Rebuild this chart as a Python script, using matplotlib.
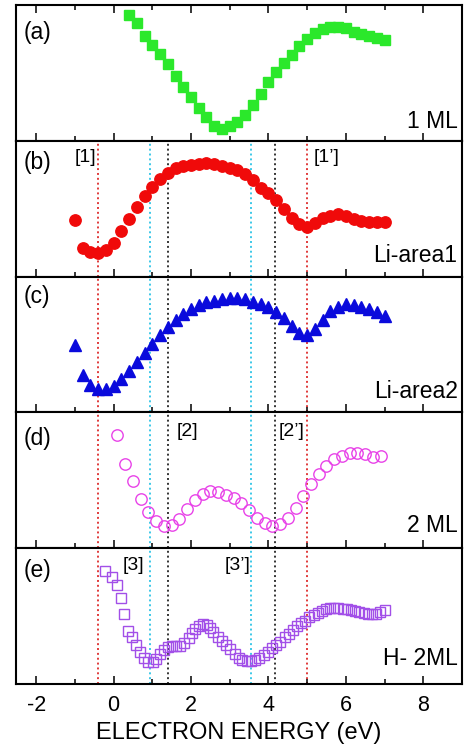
import matplotlib
matplotlib.use('Agg')
import matplotlib.pyplot as plt
from matplotlib.ticker import MultipleLocator

plt.rcParams['font.family'] = ['Liberation Sans', 'DejaVu Sans']
plt.rcParams['axes.unicode_minus'] = False

# ---------------- data (intensity in arbitrary units) ----------------
energy_a = [0.4, 0.6, 0.8, 1.0, 1.2, 1.4, 1.6, 1.8, 2.0, 2.2, 2.4, 2.6, 2.8, 3.0, 3.2, 3.4, 3.6,
            3.8, 4.0, 4.2, 4.4, 4.6, 4.8, 5.0, 5.2, 5.4, 5.6, 5.8, 6.0, 6.2, 6.4, 6.6, 6.8, 7.0]
signal_a = [126, 118, 105, 96, 87, 77, 65, 54, 44, 33, 24, 15, 12, 15, 19, 26, 36,
            47, 59, 69, 78, 86, 95, 102, 108, 112, 114, 114, 113, 109, 107, 105, 103, 101]

energy_bc = [-1.0, -0.8, -0.6, -0.4, -0.2, 0.0, 0.2, 0.4, 0.6, 0.8, 1.0, 1.2, 1.4, 1.6,
             1.8, 2.0, 2.2, 2.4, 2.6, 2.8, 3.0, 3.2, 3.4, 3.6, 3.8, 4.0, 4.2, 4.4, 4.6,
             4.8, 5.0, 5.2, 5.4, 5.6, 5.8, 6.0, 6.2, 6.4, 6.6, 6.8, 7.0]
signal_b = [56.5, 28.2, 24.8, 23.2, 26.5, 33.2, 45.8, 57.8, 69.8, 80.5, 89.8, 97.2, 103.2, 108.2,
            110.5, 111.5, 112.5, 113.2, 112.5, 110.8, 108.8, 106.5, 102.5, 96.5, 88.2, 83.2, 76.5,
            67.2, 58.2, 52.5, 49.8, 53.8, 58.2, 60.5, 62.5, 60.5, 57.5, 55.8, 54.8, 54.8, 54.8]
signal_c = [67.4, 37.4, 27.4, 23.1, 23.1, 26.4, 33.4, 41.7, 50.1, 59.1, 68.1, 77.4, 85.7, 92.4,
            98.4, 103.1, 107.4, 110.1, 111.7, 113.1, 114.7, 114.7, 113.7, 110.7, 108.4, 105.7,
            100.7, 94.1, 86.4, 79.1, 77.4, 83.1, 92.4, 101.4, 105.7, 108.1, 107.4, 105.1, 103.4,
            100.1, 96.4]

energy_d = [0.1, 0.3, 0.5, 0.7, 0.9, 1.1, 1.3, 1.5, 1.7, 1.9, 2.1, 2.3, 2.5, 2.7, 2.9, 3.1, 3.3,
            3.5, 3.7, 3.9, 4.1, 4.3, 4.5, 4.7, 4.9, 5.1, 5.3, 5.5, 5.7, 5.9, 6.1, 6.3, 6.5, 6.7, 6.9]
signal_d = [113.3, 84, 67.3, 49, 36.6, 27.6, 22.3, 23.3, 29.3, 39, 48.3, 54.3, 57.6, 56.6, 53.3,
            50, 45, 38.3, 30.6, 25.6, 22.3, 24.3, 30.6, 40.6, 52.8, 64.3, 74, 82.6, 89, 92.3, 95,
            95.6, 94.3, 91, 92.3]

energy_e = [-0.21, -0.03, 0.09, 0.19, 0.28, 0.36, 0.47, 0.58, 0.69, 0.79, 0.90, 1.01, 1.10, 1.21,
            1.31, 1.40, 1.51, 1.62, 1.72, 1.83, 1.94, 2.03, 2.11, 2.20, 2.30, 2.41, 2.50, 2.58,
            2.70, 2.80, 2.91, 3.02, 3.13, 3.23, 3.33, 3.45, 3.56, 3.66, 3.76, 3.88, 3.98, 4.09,
            4.20, 4.31, 4.42, 4.52, 4.63, 4.74, 4.84, 4.95, 5.06, 5.17, 5.27, 5.39, 5.49, 5.60,
            5.70, 5.81, 5.92, 6.03, 6.13, 6.24, 6.35, 6.46, 6.56, 6.67, 6.77, 6.88, 7.00]
signal_e = [112.8, 106.8, 98.8, 86.6, 70, 53.3, 47.3, 39.3, 32, 26, 22.6, 22, 25.3, 30.3,
            34.3, 37.6, 38.6, 38.6, 38.6, 41, 46, 51, 55.3, 58.6, 60.3, 59.3, 56, 52,
            47.6, 43.3, 39.3, 35, 30, 26, 24, 23.3, 23.3, 24.3, 26.6, 29.3, 32.6, 36,
            39.3, 42.6, 47, 50.3, 54.3, 58.3, 61, 63.6, 67, 69.3, 71.6, 73.6, 75, 76,
            76, 76, 75.3, 75, 74.3, 73.3, 72, 71, 70.3, 70, 70.3, 72, 74.3]

panel_letters = ['(a)', '(b)', '(c)', '(d)', '(e)']
sample_names = ['1 ML', 'Li-area1', 'Li-area2', '2 ML', 'H- 2ML']

# reference energies (dotted guide lines)
guide_red = [-0.4, 5.0]
guide_cyan = [0.95, 3.55]
guide_black = [1.41, 4.17]

# peak markers: (panel index, label, energy)
peak_labels = [(1, '[1]', -0.73), (1, '[1\u2019]', 5.51),
               (3, '[2]', 1.90), (3, '[2\u2019]', 4.59),
               (4, '[3]', 0.52), (4, '[3\u2019]', 3.21)]

# ---------------- figure ----------------
W, H = 465, 745
fig = plt.figure(figsize=(W / 100, H / 100), dpi=100)

top0 = 4.7
ph = 135.9
left_px, right_px = 16, 462

series = [
    (energy_a, signal_a, dict(marker='s', ms=7.0, color='#2BE82B', mec='#2BE82B')),
    (energy_bc, signal_b, dict(marker='o', ms=8.2, color='#F00A0A', mec='#F00A0A')),
    (energy_bc, signal_c, dict(marker='^', ms=8.6, color='#0A0ADC', mec='#0A0ADC')),
    (energy_d, signal_d, dict(marker='o', ms=8.2, mfc='none', mec='#E843E8', mew=1.0)),
    (energy_e, signal_e, dict(marker='s', ms=7.0, mfc='none', mec='#A24FE8', mew=1.0)),
]

letter_y = [0.795, 0.84, 0.851, 0.81, 0.84]
name_y = [0.139, 0.151, 0.152, 0.171, 0.191]

axes = []
for i in range(5):
    top = top0 + i * ph
    ax = fig.add_axes([left_px / W, 1 - (top + ph) / H, (right_px - left_px) / W, ph / H])
    axes.append(ax)
    x, y, kw = series[i]
    ax.plot(x, y, linestyle='none', zorder=3, **kw)
    ax.set_xlim(-2.52, 9.0)
    ax.set_ylim(0, ph)
    ax.set_yticks([])
    ax.xaxis.set_major_locator(MultipleLocator(2))
    ax.set_xticks([-1, 1, 3, 5, 7], minor=True)
    ax.tick_params(axis='x', which='major', direction='in', length=6.0, width=1.1,
                   top=(i == 0), labelbottom=(i == 4), labelsize=15.5, pad=8)
    ax.tick_params(axis='x', which='minor', direction='in', length=3.5, width=1.1,
                   top=(i == 0))
    for s in ax.spines.values():
        s.set_linewidth(1.5)

    if i >= 1:
        for xv in guide_red:
            ax.axvline(xv, color='#E03A3A', lw=1.4, linestyle=(0, (1, 1.5)), zorder=1)
        for xv in guide_cyan:
            ax.axvline(xv, color='#3CC8E8', lw=1.4, linestyle=(0, (1, 1.5)), zorder=1)
        for xv in guide_black:
            ax.axvline(xv, color='#333333', lw=1.4, linestyle=(0, (1, 1.5)), zorder=1)

    ax.text(0.016, letter_y[i], panel_letters[i], transform=ax.transAxes,
            ha='left', va='center', fontsize=16.5)
    ax.text(0.99, name_y[i], sample_names[i], transform=ax.transAxes,
            ha='right', va='center', fontsize=16.5)

label_y = {1: 0.875, 3: 0.863, 4: 0.87}
for idx, lab, xv in peak_labels:
    axes[idx].text(xv, label_y[idx], lab, transform=axes[idx].get_xaxis_transform(),
                   ha='center', va='center', fontsize=14)

axes[4].set_xlabel('ELECTRON ENERGY (eV)', fontsize=17, labelpad=4)

fig.savefig('out.png', dpi=100)
